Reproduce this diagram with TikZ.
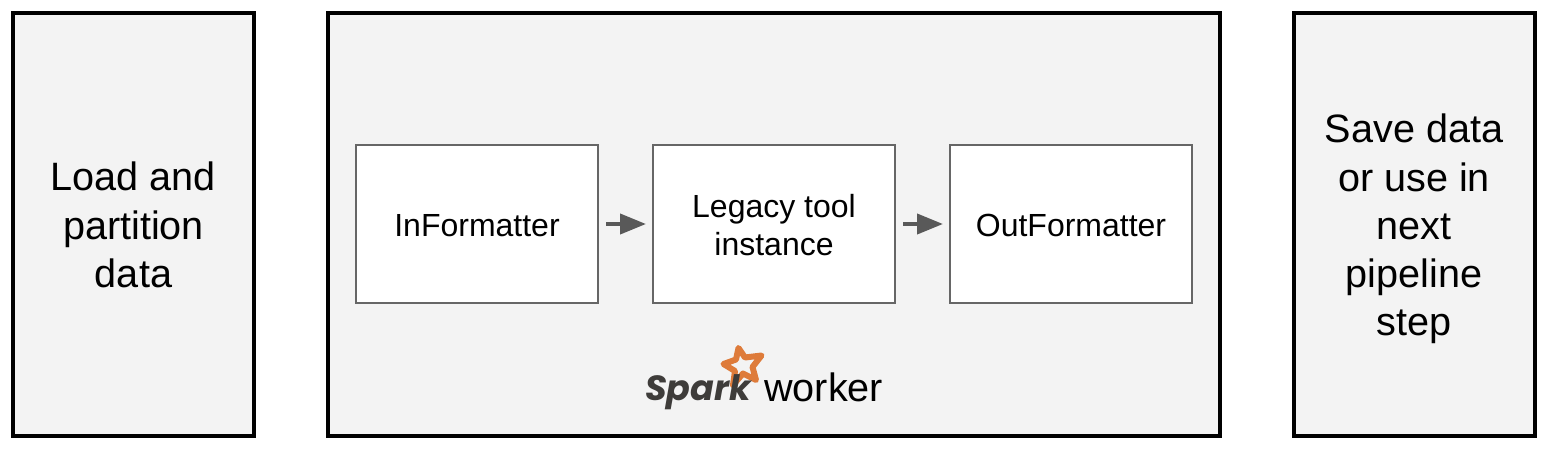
\documentclass[tikz,border=0pt]{standalone}
\usepackage{fontspec}
\setmainfont{Liberation Sans}
\newfontfamily\sparkfont{Poppins}
\usetikzlibrary{arrows.meta}
\newcommand{\fsz}[2]{\fontsize{#1}{#2}\selectfont}
\definecolor{panel}{HTML}{F3F3F3}
\definecolor{ink}{HTML}{000000}
\definecolor{boxedge}{HTML}{666666}
\definecolor{arrowgrey}{HTML}{595959}
\definecolor{sparkorange}{HTML}{DE7B3A}
\definecolor{sparkgrey}{HTML}{3E3C3A}
\tikzset{
 x=1pt,y=-1pt,
 panelbox/.style={draw=ink,line width=4pt,fill=panel,anchor=north west,inner sep=0pt,minimum height=423pt},
 panellabel/.style={inner sep=0pt,align=center,text=ink,font=\fsz{39.6}{48.2}},
 stagebox/.style={draw=boxedge,line width=2pt,fill=white,anchor=north west,inner sep=0pt,minimum width=242pt,minimum height=158pt},
 stagelabel/.style={inner sep=0pt,align=center,text=ink,yshift=-1.5pt,font=\fsz{32}{38}},
 flow/.style={draw=arrowgrey,line width=4pt,-{Triangle[length=26pt,width=20pt,fill=arrowgrey]},shorten >=6pt,shorten <=7pt}
}
\begin{document}
\begin{tikzpicture}
\useasboundingbox (0,0) rectangle (1546,448);
\node[panelbox,minimum width=241pt] (load) at (11,10.5) {};
\node[panelbox,minimum width=892pt] (worker) at (326,10.5) {};
\node[panelbox,minimum width=241pt] (save) at (1291.5,10.5) {};
\node[panellabel,yshift=-1pt] (loadtext) at (load.center) {Load and\\partition\\data};
\node[panellabel,yshift=-5pt] (savetext) at (save.center) {Save data\\or use in\\next\\pipeline\\step};
\node[stagebox] (in) at (355,144) {};
\node[stagebox] (tool) at (652,144) {};
\node[stagebox] (out) at (949,144) {};
\node[stagelabel] (intext) at (in.center) {InFormatter};
\node[stagelabel] (tooltext) at (tool.center) {Legacy tool\\instance};
\node[stagelabel] (outtext) at (out.center) {OutFormatter};
\draw[flow] (in.east) -- (tool.west);
\draw[flow] (tool.east) -- (out.west);
\draw[sparkorange,line width=6pt,line join=round,fill=panel]
 (738.5,348) -- (745,357.5) -- (761.5,355.5) -- (752.5,367) -- (756,380) -- (743,373.5) -- (733,385) -- (735,371) -- (723.5,364) -- (736,359.5) -- cycle;
\node[anchor=base west,inner sep=0pt,text=sparkgrey,font=\sparkfont\fsz{35}{40}\bfseries\itshape] (spark) at (645,400) {Spark};
\node[anchor=base west,inner sep=0pt,text=ink,font=\fsz{39.6}{40}] (lbl) at (764,401) {worker};
\end{tikzpicture}
\end{document}
